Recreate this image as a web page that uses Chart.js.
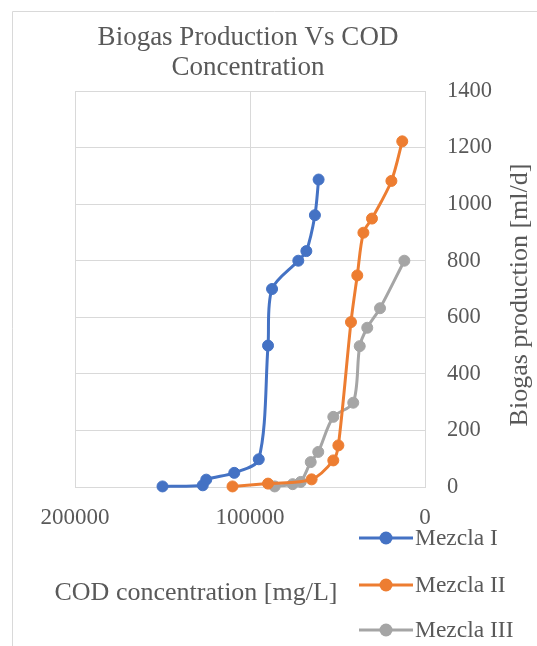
<!DOCTYPE html>
<html lang="en">
<head>
    <meta charset="UTF-8">
    <script src="https://cdn.jsdelivr.net/npm/chart.js"></script>
    <title>Biogas Production Vs COD Concentration</title>
    <style>
        body { margin: 0; background: #fff; }
        #grafico { display: block; }
    </style>
</head>
<body>
    <canvas id="grafico" width="537" height="646"></canvas>

<script>
    // data
    const codI = [150000, 127000, 125000, 109000, 95000, 89700, 87400, 72400, 67800, 62900, 60800];
    const bioI = [2, 6, 26, 50, 98, 500, 700, 800, 834, 961, 1087];

    const codII = [110000, 89700, 64800, 52400, 49500, 42300, 38700, 35200, 30300, 19200, 13000];
    const bioII = [2, 12, 27, 94, 147, 583, 748, 899, 949, 1082, 1222];

    const codIII = [85900, 75600, 71000, 65300, 61000, 52400, 41000, 37300, 33000, 25700, 11800];
    const bioIII = [2, 10, 18, 88, 124, 248, 298, 498, 563, 632, 800];

    const series = ['Mezcla I', 'Mezcla II', 'Mezcla III'];
    const titleLines = ['Biogas Production Vs COD', 'Concentration'];
    const xTitle = 'COD concentration [mg/L]';
    const yTitle = 'Biogas production [ml/d]';

    const cores = ['#4472C4', '#ED7D31', '#A5A5A5'];
    const texto = '#595959';
    const grade = '#d9d9d9';
    const serif = "'Liberation Serif', 'Times New Roman', serif";

    function pontos(xs, ys) {
        return xs.map((x, i) => ({ x: x, y: ys[i] }));
    }

    function serie(i, xs, ys) {
        return {
            label: series[i],
            data: pontos(xs, ys),
            borderColor: cores[i],
            backgroundColor: cores[i],
            borderWidth: 3,
            pointRadius: 5.5,
            pointBorderWidth: 1,
            pointHoverRadius: 5.5,
            tension: 0.3,
            clip: false
        };
    }

    // frame, titles and legend drawn like the Excel layout
    const extras = {
        id: 'extras',
        beforeDraw(chart) {
            const ctx = chart.ctx;
            ctx.save();
            ctx.strokeStyle = grade;
            ctx.lineWidth = 1;
            ctx.beginPath();
            ctx.moveTo(12.5, 646);
            ctx.lineTo(12.5, 11.5);
            ctx.lineTo(537, 11.5);
            ctx.stroke();
            ctx.restore();
        },
        afterDraw(chart) {
            const ctx = chart.ctx;
            ctx.save();
            ctx.fillStyle = texto;
            ctx.textAlign = 'center';
            ctx.textBaseline = 'alphabetic';

            ctx.font = '27px ' + serif;
            ctx.fillText(titleLines[0], 248, 45);
            ctx.fillText(titleLines[1], 248, 75);

            ctx.font = '26px ' + serif;
            ctx.fillText(xTitle, 196, 600);

            ctx.save();
            ctx.translate(527, 295);
            ctx.rotate(-Math.PI / 2);
            ctx.font = '26px ' + serif;
            ctx.fillText(yTitle, 0, 0);
            ctx.restore();

            const linhas = [538, 585, 630];
            ctx.textAlign = 'left';
            ctx.textBaseline = 'middle';
            ctx.font = '23.5px ' + serif;
            for (let i = 0; i < series.length; i++) {
                const y = linhas[i];
                ctx.strokeStyle = cores[i];
                ctx.lineWidth = 3;
                ctx.beginPath();
                ctx.moveTo(359, y);
                ctx.lineTo(413, y);
                ctx.stroke();
                ctx.fillStyle = cores[i];
                ctx.beginPath();
                ctx.arc(386, y, 6.5, 0, Math.PI * 2);
                ctx.fill();
                ctx.fillStyle = texto;
                ctx.fillText(series[i], 415, y + 1);
            }
            ctx.restore();
        }
    };

    const config = {
        type: 'line',
        data: {
            datasets: [
                serie(0, codI, bioI),
                serie(1, codII, bioII),
                serie(2, codIII, bioIII)
            ]
        },
        options: {
            responsive: false,
            animation: false,
            layout: { padding: { left: 75, top: 91, right: 0, bottom: 0 } },
            plugins: {
                legend: { display: false },
                title: { display: false },
                tooltip: { enabled: false }
            },
            scales: {
                x: {
                    type: 'linear',
                    reverse: true,
                    min: 0,
                    max: 200000,
                    afterFit(scale) { scale.height = 159; },
                    grid: { color: grade, lineWidth: 1, drawTicks: false },
                    border: { color: grade },
                    ticks: {
                        stepSize: 100000,
                        padding: 17,
                        color: texto,
                        font: { family: serif, size: 23 },
                        maxRotation: 0,
                        callback: v => String(v)
                    }
                },
                y: {
                    position: 'right',
                    min: 0,
                    max: 1400,
                    afterFit(scale) { scale.width = 112; },
                    grid: { color: grade, lineWidth: 1, drawTicks: false },
                    border: { color: grade },
                    ticks: {
                        stepSize: 200,
                        padding: 22,
                        color: texto,
                        font: { family: serif, size: 22.5 },
                        callback: v => String(v)
                    }
                }
            }
        },
        plugins: [extras]
    };

    const grafico = new Chart(document.getElementById('grafico'), config);
</script>
</body>
</html>
